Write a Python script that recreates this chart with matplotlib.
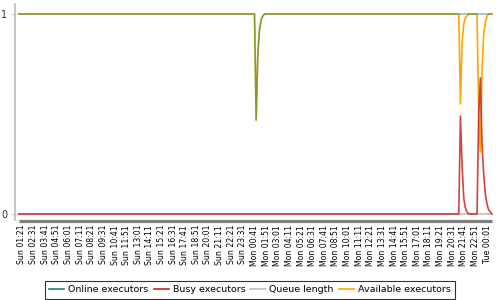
import matplotlib
matplotlib.use("Agg")
import matplotlib.pyplot as plt
from matplotlib.lines import Line2D

tick_labels = [
    "Sun 01:21", "Sun 02:31", "Sun 03:41", "Sun 04:51", "Sun 06:01", "Sun 07:11",
    "Sun 08:21", "Sun 09:31", "Sun 10:41", "Sun 11:51", "Sun 13:01", "Sun 14:11",
    "Sun 15:21", "Sun 16:31", "Sun 17:41", "Sun 18:51", "Sun 20:01", "Sun 21:11",
    "Sun 22:21", "Sun 23:31", "Mon 00:41", "Mon 01:51", "Mon 03:01", "Mon 04:11",
    "Mon 05:21", "Mon 06:31", "Mon 07:41", "Mon 08:51", "Mon 10:01", "Mon 11:11",
    "Mon 12:21", "Mon 13:31", "Mon 14:41", "Mon 15:51", "Mon 17:01", "Mon 18:11",
    "Mon 19:21", "Mon 20:31", "Mon 21:41", "Mon 22:51", "Tue 00:01",
]
# one sample every 10 minutes, a label every 7th sample starting at sample 2
tick_first = 2
tick_step = 7

online = ([1.0] * 143 + [0.47, 0.80, 0.92, 0.97, 0.99] + [1.0] * 138)
busy = ([0.0] * 266 + [0.49, 0.24, 0.08, 0.03, 0.01] + [0.0] * 6
        + [0.50, 0.68, 0.35, 0.20, 0.10, 0.05, 0.02, 0.01, 0.0])
queue = [0.0] * 286
available = ([1.0] * 143 + [0.47, 0.80, 0.92, 0.97, 0.99] + [1.0] * 118
             + [0.55, 0.86, 0.95, 0.98, 0.99, 1.0] + [1.0] * 5
             + [0.50, 0.31, 0.72, 0.90, 0.96, 0.99, 1.0, 1.0, 1.0])

c_online = "#1f8a5e"
c_busy = "#cc2222"
c_queue = "#c0c0c0"
c_avail = "#ffa500"

W, H = 500, 300
fig = plt.figure(figsize=(W / 100, H / 100), dpi=100)
L, R, T, B = 14.5, 495, 4, 220
ax = fig.add_axes([L / W, 1 - B / H, (R - L) / W, (B - T) / H])

x = list(range(len(online)))
px_per = 465 / 280.0
x0px = 22 - tick_first * px_per
ax.set_xlim(-(x0px - L) / px_per, (R - x0px) / px_per)
ax.set_ylim((214 - B) / 200.0, (214 - T) / 200.0)

lw = 1.2
ax.plot(x, queue, color=c_queue, lw=lw, zorder=2)
ax.plot(x, available, color=c_avail, lw=lw, zorder=3)
ax.plot(x, busy, color=c_busy, lw=lw, zorder=4, alpha=0.85)
ax.plot(x, online, color=c_online, lw=lw, zorder=5, alpha=0.5)

# thick gray category-axis bar
ax.plot([x[0], x[-1]], [-0.035, -0.035], color="#808080", lw=2.3,
        clip_on=False, solid_capstyle="butt")

for s in ["top", "right", "bottom"]:
    ax.spines[s].set_visible(False)
ax.spines["left"].set_color("#c0c0c0")
ax.spines["left"].set_linewidth(1.3)

ax.set_yticks([0, 1])
ax.set_yticklabels(["0", "1"])
ax.tick_params(axis="y", length=2, width=0.8, color="#b0b0b0", pad=3,
               labelsize=7, labelcolor="#333333")
ax.set_xticks([tick_first + tick_step * k for k in range(len(tick_labels))])
ax.set_xticklabels(tick_labels, rotation=90, fontsize=5.6, va="top", ha="center")
ax.tick_params(axis="x", length=0, pad=3.5, labelcolor="#000000")

handles = [Line2D([], [], color=c, lw=1.2) for c in (c_online, c_busy, c_queue, c_avail)]
leg = fig.legend(handles, ["Online executors", "Busy executors", "Queue length",
                           "Available executors"],
                 loc="lower center", bbox_to_anchor=(0.5, 0.0), ncol=4,
                 fontsize=6.8, frameon=True, fancybox=False, handlelength=1.6,
                 handletextpad=0.4, columnspacing=0.55, borderpad=0.5,
                 borderaxespad=0.1)
leg.get_frame().set_edgecolor("#000000")
leg.get_frame().set_linewidth(0.8)

fig.savefig("out.png", dpi=100)
